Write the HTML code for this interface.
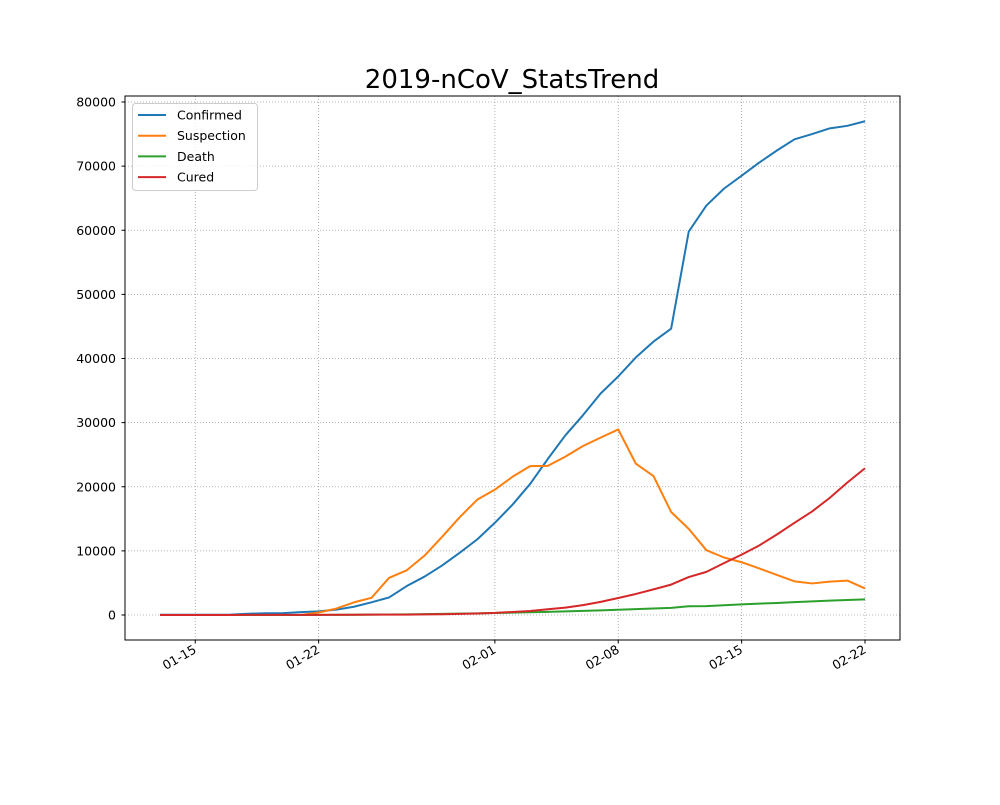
<!DOCTYPE html>
<html><head><meta charset="utf-8"><style>
body{margin:0;background:#fff;}
svg{font-family:"DejaVu Sans","Liberation Sans",sans-serif;}
</style></head><body>
<svg id="chart" width="1000" height="800" viewBox="0 0 1000 800">
<rect width="1000" height="800" fill="#fff"/>
<text x="512" y="88" text-anchor="middle" font-size="26">2019-nCoV_StatsTrend</text>
<g id="grid"></g><g id="series"></g><g id="axes"></g>
<rect x="125" y="96" width="775" height="544" fill="none" stroke="#000" stroke-width="1"/>
<g>
<rect x="132.5" y="103.5" width="125" height="87" rx="3" fill="#fff" fill-opacity="0.8" stroke="#ccc"/>
</g>
<g id="legend"></g>
</svg>
<script>
const startDate = "01-13";
const confirmed = [41,41,41,45,62,198,275,291,440,571,830,1287,1975,2744,4515,5974,7711,9692,11791,14380,17205,20438,24324,28018,31161,34546,37198,40171,42638,44653,59804,63851,66492,68500,70548,72436,74185,75002,75891,76288,77000];
const suspection = [0,0,0,0,0,0,0,0,0,393,1000,1965,2684,5794,6973,9239,12167,15238,17988,19544,21558,23214,23260,24702,26359,27657,28942,23589,21675,16067,13435,10109,8969,8228,7264,6242,5248,4922,5206,5365,4148];
const death = [1,1,1,2,2,3,4,6,9,17,25,41,56,80,106,132,170,213,259,304,361,425,490,563,636,722,811,908,1016,1113,1368,1380,1523,1665,1770,1868,2004,2118,2236,2345,2442];
const cured = [0,0,0,3,5,10,15,20,25,28,34,38,49,51,60,103,124,171,243,328,475,632,892,1153,1540,2050,2649,3281,3996,4740,5911,6723,8096,9419,10844,12552,14376,16155,18264,20659,22888];
const yTicks = [0,10000,20000,30000,40000,50000,60000,70000,80000];
const xTickLabels = ["01-15","01-22","02-01","02-08","02-15","02-22"];
const xTickDays = [2,9,19,26,33,40];
const seriesNames = ["Confirmed","Suspection","Death","Cured"];
const colors = ["#1f77b4","#ff7f0e","#2ca02c","#d62728"];

const NS="http://www.w3.org/2000/svg";
const X0=160, X1=865, nDays=40;
const xs = d => X0 + (X1-X0)*d/nDays;
const ys = v => 615 - v*(615-102)/80000;
function mk(tag, attrs, parent){const e=document.createElementNS(NS,tag);for(const k in attrs)e.setAttribute(k,attrs[k]);parent.appendChild(e);return e;}
const grid=document.getElementById('grid'), axes=document.getElementById('axes'), ser=document.getElementById('series'), leg=document.getElementById('legend');

yTicks.forEach(v=>{
  const y=ys(v);
  const g=mk('line',{x1:125,x2:900,y1:y,y2:y,stroke:'#a0a0a0','stroke-dasharray':'1,2','stroke-width':0.8},grid);
  
  
  mk('line',{x1:121.5,x2:125,y1:y,y2:y,stroke:'#000'},axes);
  const t=mk('text',{x:116,y:y+4.5,'text-anchor':'end','font-size':12.5},axes);
  t.textContent=v;
  
  
});
xTickDays.forEach((d,i)=>{
  const x=xs(d);
  const g=mk('line',{x1:x,x2:x,y1:96,y2:640,stroke:'#a0a0a0','stroke-dasharray':'1,2','stroke-width':0.8},grid);
  
  
  mk('line',{x1:x,x2:x,y1:640,y2:643.5,stroke:'#000'},axes);
  const t=mk('text',{x:x+2,y:652,'text-anchor':'end','font-size':12.5,transform:`rotate(-30 ${x+2} 652)`},axes);
  t.textContent=xTickLabels[i];
  
  
});
[confirmed,suspection,death,cured].forEach((arr,k)=>{
  const p=mk('polyline',{points:arr.map((v,i)=>xs(i)+','+ys(v)).join(' '),fill:'none',stroke:colors[k],'stroke-width':2,'stroke-linejoin':'round'},ser);
  
  
  const y=115+k*20.7;
  const l=mk('line',{x1:138,x2:166,y1:y,y2:y,stroke:colors[k],'stroke-width':2},leg);
  
  
  const t=mk('text',{x:177,y:y+4.5,'font-size':12.5},leg);
  t.textContent=seriesNames[k];
  
  
});
</script>
</body></html>
